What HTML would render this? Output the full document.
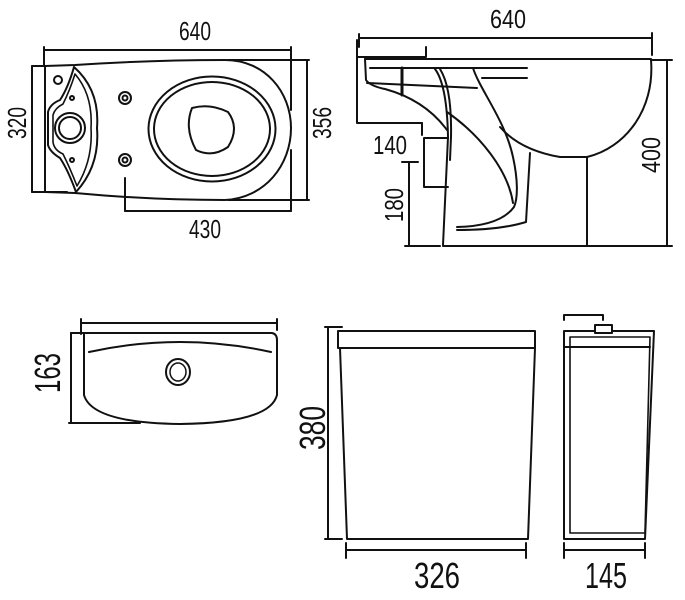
<!DOCTYPE html>
<html><head><meta charset="utf-8"><style>
html,body{margin:0;padding:0;background:#fff;}
svg{display:block;}
text{font-family:"Liberation Sans Narrow","Liberation Sans",sans-serif;fill:#111;}
</style></head><body>
<svg width="685" height="600" viewBox="0 0 685 600" xmlns="http://www.w3.org/2000/svg">
<g fill="none" stroke="#111" stroke-width="2" stroke-linecap="round" stroke-linejoin="round">
<!-- ===== TOP VIEW ===== -->
<line x1="44" y1="50" x2="291" y2="50"/>
<line x1="44" y1="47" x2="44" y2="65"/>
<line x1="291" y1="47" x2="291" y2="110"/>
<line x1="32" y1="66" x2="32" y2="192"/>
<line x1="32" y1="66" x2="45" y2="66"/>
<line x1="32" y1="192" x2="67" y2="192"/>
<line x1="307" y1="60" x2="307" y2="200"/>
<line x1="228" y1="60" x2="309" y2="60"/>
<line x1="228" y1="200" x2="309" y2="200"/>
<line x1="125" y1="211" x2="291" y2="211"/>
<line x1="125" y1="178" x2="125" y2="211"/>
<line x1="291" y1="150" x2="291" y2="211"/>
<path d="M45,66 L45,192 L75,193 Q150,200 225,200 C265,198 291,165 291,128 C291,92 265,60 225,60 Q150,60 75,65 Z"/>
<path d="M74,67 Q100,90 97,128 Q100,166 76,192 Q68,170 60,158 Q50,152 48,145 L48,112 Q50,104 60,100 Q68,88 74,67 Z"/>
<path d="M75,74 Q93,95 91,128 Q93,160 77,186 Q70,168 63,154 Q54,150 53,142 L53,115 Q55,108 63,104 Q70,90 75,74 Z" stroke-width="1.6"/>
<circle cx="70" cy="128" r="15"/>
<circle cx="70" cy="128" r="11"/>
<circle cx="58" cy="80" r="4"/>
<circle cx="72" cy="98" r="2"/>
<circle cx="72" cy="160" r="2"/>
<circle cx="125" cy="98" r="6"/><circle cx="125" cy="98" r="2.5"/>
<circle cx="125" cy="160" r="6"/><circle cx="125" cy="160" r="2.5"/>
<ellipse cx="212" cy="129" rx="63.5" ry="52.5"/>
<ellipse cx="212" cy="129" rx="58" ry="47"/>
<path d="M192,108 Q210,103 228,112 Q240,128 228,147 Q212,158 196,150 Q184,128 192,108 Z"/>

<!-- ===== SIDE VIEW ===== -->
<line x1="359" y1="38" x2="652" y2="38"/>
<line x1="359" y1="34" x2="359" y2="47"/>
<line x1="652" y1="33" x2="652" y2="55"/>
<path d="M357,40 L357,57 L426,57 L426,47"/>
<line x1="365" y1="59" x2="651" y2="59"/>
<line x1="370" y1="68" x2="527" y2="68"/>
<line x1="482" y1="78" x2="527" y2="78"/>
<line x1="367" y1="83" x2="477" y2="88"/>
<path d="M365,59 L366,80 Q370,86 385,89 Q425,100 447,130"/>
<line x1="402" y1="68" x2="402" y2="95" stroke-width="3"/>
<path d="M435,69 Q447,85 448,137 L443,245"/>
<path d="M440,69 Q452,88 451,137 L450,160"/>
<path d="M447,112 C480,135 508,170 513,203"/>
<path d="M473,68 C480,90 505,120 513,157 C518,180 518,198 514,207 Q500,226 457,227"/>
<path d="M530,153 L526,222 Q500,230 457,230"/>
<path d="M500,127 Q520,150 560,157 L587,157 C625,148 655,110 651,60"/>
<line x1="587" y1="157" x2="587" y2="245"/>
<path d="M422,123 L422,135 M424,138 L448,138 M424,138 L424,187 L448,187"/>
<path d="M357,57 L357,123 L422,123"/>
<line x1="409" y1="162" x2="409" y2="246"/>
<line x1="402" y1="162" x2="418" y2="162"/>
<line x1="405" y1="246" x2="440" y2="246"/>
<line x1="443" y1="246" x2="672" y2="246"/>
<line x1="667" y1="60" x2="667" y2="246"/>
<line x1="652" y1="60" x2="672" y2="60"/>

<!-- ===== TANK TOP VIEW ===== -->
<line x1="81" y1="323" x2="277" y2="323"/>
<line x1="81" y1="319" x2="81" y2="334"/>
<line x1="277" y1="319" x2="277" y2="330"/>
<line x1="71" y1="333" x2="71" y2="423"/>
<line x1="71" y1="333" x2="84" y2="333"/>
<line x1="69" y1="423" x2="140" y2="423"/>
<path d="M84,333 L272,333 Q277,334 277,340 L277,395 Q270,423 180,424 Q92,423 84,395 Z"/>
<path d="M89,352 Q180,332 271,352"/>
<ellipse cx="178" cy="372" rx="12" ry="13"/>
<ellipse cx="178" cy="372" rx="8" ry="9" stroke-width="1.5"/>

<!-- ===== TANK FRONT ===== -->
<line x1="328" y1="327" x2="328" y2="539"/>
<line x1="325" y1="327" x2="342" y2="327"/>
<line x1="325" y1="539" x2="342" y2="539"/>
<path d="M338,331 L535,331 L535,348 L338,348 Z"/>
<path d="M340,348 L347,539 L528,539 L535,348"/>
<line x1="346" y1="550" x2="526" y2="550"/>
<line x1="346" y1="543" x2="346" y2="558"/>
<line x1="526" y1="543" x2="526" y2="558"/>

<!-- ===== TANK SIDE ===== -->
<path d="M594,331 L564,331 L564,539 L645,539 L654,331 L612,331"/>
<path d="M570,337 L650,337 L645,533 L570,533 Z" stroke-width="1.6"/>
<line x1="564" y1="347" x2="650" y2="347"/>
<rect x="595" y="325" width="17" height="8"/>
<path d="M564,320 L564,315 L603,315 L603,320"/>
<line x1="564" y1="550" x2="645" y2="550"/>
<line x1="564" y1="543" x2="564" y2="558"/>
<line x1="645" y1="543" x2="645" y2="558"/>
</g>

<!-- labels -->
<g font-size="26">
<text x="195" y="40" text-anchor="middle" textLength="32" lengthAdjust="spacingAndGlyphs">640</text>
<text x="205" y="238" text-anchor="middle" textLength="32" lengthAdjust="spacingAndGlyphs">430</text>
<text x="508" y="28" text-anchor="middle" textLength="36" lengthAdjust="spacingAndGlyphs">640</text>
<text x="390" y="154" text-anchor="middle" textLength="34" lengthAdjust="spacingAndGlyphs">140</text>
<text transform="translate(26,123) rotate(-90)" text-anchor="middle" textLength="32" lengthAdjust="spacingAndGlyphs">320</text>
<text transform="translate(331,123) rotate(-90)" text-anchor="middle" textLength="32" lengthAdjust="spacingAndGlyphs">356</text>
<text transform="translate(660,155) rotate(-90)" text-anchor="middle" textLength="36" lengthAdjust="spacingAndGlyphs">400</text>
<text transform="translate(403,205) rotate(-90)" text-anchor="middle" textLength="34" lengthAdjust="spacingAndGlyphs">180</text>
</g>
<g font-size="36">
<text transform="translate(60,373) rotate(-90)" text-anchor="middle" textLength="40" lengthAdjust="spacingAndGlyphs">163</text>
<text transform="translate(325,428) rotate(-90)" text-anchor="middle" textLength="44" lengthAdjust="spacingAndGlyphs">380</text>
<text x="437" y="588" text-anchor="middle" textLength="46" lengthAdjust="spacingAndGlyphs">326</text>
<text x="606" y="588" text-anchor="middle" textLength="42" lengthAdjust="spacingAndGlyphs">145</text>
</g>
</svg>
</body></html>
